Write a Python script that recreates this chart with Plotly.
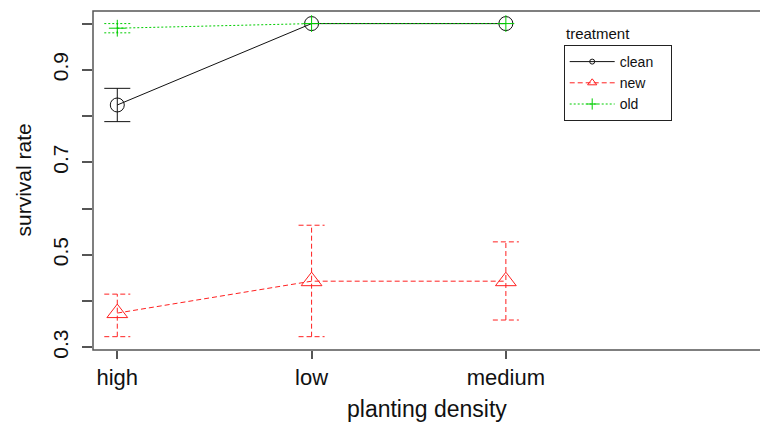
import plotly.graph_objects as go

# ---- data ----
categories = ["high", "low", "medium"]
treatments = ["clean", "new", "old"]
clean_mean = [0.824, 1.000, 1.000]
clean_upper = [0.860, 1.000, 1.000]
clean_lower = [0.788, 1.000, 1.000]
new_mean = [0.374, 0.443, 0.443]
new_upper = [0.415, 0.564, 0.528]
new_lower = [0.323, 0.323, 0.359]
old_mean = [0.990, 1.000, 1.000]
old_upper = [1.000, 1.000, 1.000]
old_lower = [0.980, 1.000, 1.000]
y_tick_vals = [0.3, 0.4, 0.5, 0.6, 0.7, 0.8, 0.9, 1.0]
y_tick_text = ["0.3", "", "0.5", "", "0.7", "", "0.9", ""]

FONT = "Liberation Sans, Arial, sans-serif"
W, H = 760, 422
ML, MR, MT, MB = 93, 0, 11, 72
X_RANGE = [0.875, 4.308]
Y_RANGE = [0.2942, 1.0272]
CAP = 0.067  # half cap width in x units
PW, PH = W - ML - MR, H - MT - MB
AXC = "#555555"

styles = {
    "clean": dict(color="#111111", dash="solid", symbol="circle-open", size=14, lsize=5),
    "new": dict(color="#FF2020", dash="5px,3px", symbol="triangle-up-open", size=18, lsize=8),
    "old": dict(color="#00CD00", dash="2px,2px", symbol="cross-thin-open", size=12, lsize=8),
}
series = {
    "clean": (clean_mean, clean_upper, clean_lower),
    "new": (new_mean, new_upper, new_lower),
    "old": (old_mean, old_upper, old_lower),
}

xpos = [i + 1 for i in range(len(categories))]

fig = go.Figure()
for name in treatments:
    mean, up, lo = series[name]
    st = styles[name]
    ex, ey = [], []
    for x, u, l in zip(xpos, up, lo):
        if u == l:
            continue
        ex += [x, x, None, x - CAP, x + CAP, None, x - CAP, x + CAP, None]
        ey += [l, u, None, u, u, None, l, l, None]
    if ex:
        fig.add_trace(go.Scatter(
            x=ex, y=ey, mode="lines", showlegend=False, hoverinfo="skip",
            line=dict(color=st["color"], width=1, dash=st["dash"]),
        ))

for name in treatments:
    mean, up, lo = series[name]
    st = styles[name]
    fig.add_trace(go.Scatter(
        x=xpos, y=mean, mode="lines+markers", name=name, showlegend=False,
        line=dict(color=st["color"], width=1, dash=st["dash"]),
        marker=dict(symbol=st["symbol"], size=st["size"], color=st["color"],
                    line=dict(color=st["color"], width=1)),
    ))

for name in treatments:
    st = styles[name]
    fig.add_trace(go.Scatter(
        x=[None], y=[None], mode="lines+markers",
        name=name + "\u00a0\u00a0\u00a0",
        line=dict(color=st["color"], width=1, dash=st["dash"]),
        marker=dict(symbol=st["symbol"], size=st["lsize"], color=st["color"],
                    line=dict(color=st["color"], width=1)),
    ))

fig.update_layout(
    width=W, height=H,
    margin=dict(l=ML, r=MR, t=MT, b=MB),
    paper_bgcolor="white", plot_bgcolor="white",
    font=dict(family=FONT, color="#111111"),
    showlegend=True,
    legend=dict(
        x=(563.7 - ML) / PW, y=(H - MB - 45) / PH,
        xanchor="left", yanchor="top",
        bordercolor="#222222", borderwidth=1, bgcolor="white",
        font=dict(size=14, family=FONT, color="#111111"),
        itemsizing="trace", tracegroupgap=0, itemwidth=45,
    ),
    xaxis=dict(
        range=X_RANGE, tickvals=xpos, ticktext=categories,
        showgrid=False, zeroline=False, showline=False,
        ticks="outside", ticklen=8, tickcolor=AXC, tickwidth=1.5,
        tickfont=dict(size=22, family=FONT, color="#111111"),
    ),
    yaxis=dict(
        range=Y_RANGE, tickvals=y_tick_vals, ticktext=y_tick_text,
        showgrid=False, zeroline=False, showline=False,
        ticks="outside", ticklen=10, tickcolor=AXC, tickwidth=1.5,
        tickangle=-90, ticklabelstandoff=6,
        tickfont=dict(size=21, family=FONT, color="#111111"),
    ),
    shapes=[
        # open-right box (the box continues past the picture's right edge)
        dict(type="path", xref="paper", yref="paper", layer="above",
             path="M 1.2,1 L 0,1 L 0,0 L 1.2,0",
             line=dict(color=AXC, width=1.5)),
    ],
    annotations=[
        dict(text="survival rate", xref="paper", yref="paper", x=0, y=0.5,
             xanchor="center", yanchor="middle", xshift=-70, textangle=-90,
             showarrow=False, font=dict(size=21, family=FONT, color="#111111")),
        dict(text="planting density", xref="paper", yref="paper", x=0.5, y=0,
             xanchor="center", yanchor="middle", yshift=-59,
             showarrow=False, font=dict(size=23, family=FONT, color="#111111")),
        dict(text="treatment", xref="paper", yref="paper",
             x=(563.7 - ML) / PW, y=(H - MB - 33) / PH,
             xanchor="left", yanchor="middle",
             showarrow=False, font=dict(size=15, family=FONT, color="#111111")),
        # white strip over the picture's right edge
        dict(text="\u00a0", xref="paper", yref="paper", x=1, y=0.5,
             xanchor="right", yanchor="middle", showarrow=False,
             width=5, height=PH - 5, bgcolor="white", borderpad=0,
             borderwidth=0, font=dict(size=4)),
    ],
)

fig.write_html("out.html")
